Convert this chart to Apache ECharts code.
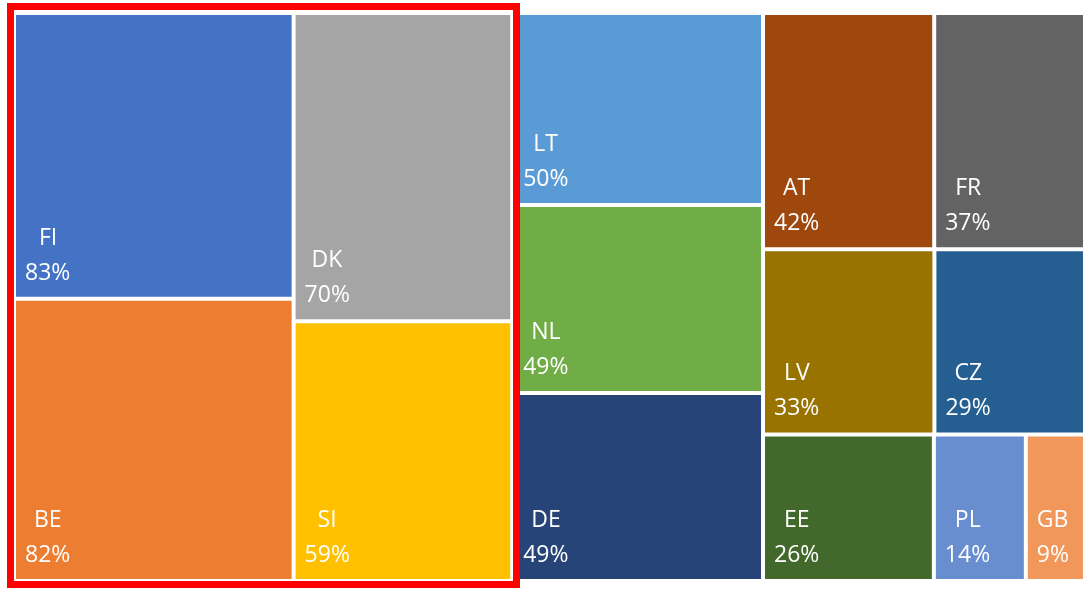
<!DOCTYPE html>
<html><head><meta charset="utf-8">
<script src="https://cdn.jsdelivr.net/npm/echarts@6/dist/echarts.min.js"></script>
<style>html,body{margin:0;padding:0;background:#fff}#c{width:1083px;height:589px}</style>
</head><body><div id="c"></div>
<script>
const countries = ['FI','BE','DK','SI','LT','NL','DE','AT','FR','LV','CZ','EE','PL','GB'];
const shares = [83,82,70,59,50,49,49,42,37,33,29,26,14,9];
const colors = ['#4472C4','#ED7D31','#A5A5A5','#FFC000','#5B9BD5','#70AD47','#264478','#9E480E','#636363','#997300','#255E91','#43682B','#698ED0','#F1975A'];

const FONT = '"Open Sans", "Noto Sans", sans-serif';
const FS = 23;
const LH = 35;
const ctx = document.createElement('canvas').getContext('2d');
ctx.font = FS + 'px ' + FONT;

function buildData(pads) {
  return countries.map(function (c, i) {
    const pct = shares[i] + '%';
    const wn = ctx.measureText(c).width;
    const wp = ctx.measureText(pct).width;
    const w = Math.max(wn, wp);
    const base = {fontSize: FS, fontFamily: FONT, color: '#fff', lineHeight: LH};
    const tokN = Object.assign({padding: [0, 0, 0, Math.round((w - wn) / 2)]}, base);
    const tokP = Object.assign({padding: [0, 0, 0, Math.round((w - wp) / 2)]}, base);
    const padTop = pads && pads[c] != null ? pads[c] : 0;
    return {
      name: c, value: shares[i],
      itemStyle: {color: colors[i]},
      label: {
        formatter: '{n|' + c + '}\n{p|' + pct + '}',
        padding: [padTop, 0, 0, 9],
        rich: {n: tokN, p: tokP}
      }
    };
  });
}

function makeOption(data) {
  return {
    backgroundColor: '#fff',
    animation: false,
    series: [{
      type: 'treemap',
      left: 16, top: 15, right: 0, bottom: 10,
      roam: false, nodeClick: false,
      sort: false,
      squareRatio: 1,
      breadcrumb: {show: false},
      itemStyle: {borderWidth: 0, gapWidth: 4, borderColor: '#fff'},
      levels: [{itemStyle: {borderWidth: 0, gapWidth: 4, borderColor: '#fff'}}],
      label: {
        show: true, position: 'insideTopLeft', distance: 0,
        align: 'left', verticalAlign: 'top',
        color: '#fff', fontSize: FS, fontFamily: FONT, lineHeight: LH,
        overflow: 'none'
      },
      emphasis: {disabled: true},
      data: data
    }],
    graphic: [{
      type: 'rect', z: 100,
      shape: {x: 10.5, y: 6.5, width: 506, height: 578},
      style: {fill: 'none', stroke: '#FF0000', lineWidth: 7}
    }]
  };
}

const chart = echarts.init(document.getElementById('c'), null, {renderer: 'canvas'});
chart.setOption(makeOption(buildData(null)));
const sd = chart.getModel().getSeriesByIndex(0).getData();
const pads = {};
for (let i = 0; i < sd.count(); i++) {
  const lay = sd.getItemLayout(i);
  if (lay) pads[sd.getName(i)] = Math.max(0, Math.round(lay.height - 76));
}
chart.setOption(makeOption(buildData(pads)));
</script></body></html>
